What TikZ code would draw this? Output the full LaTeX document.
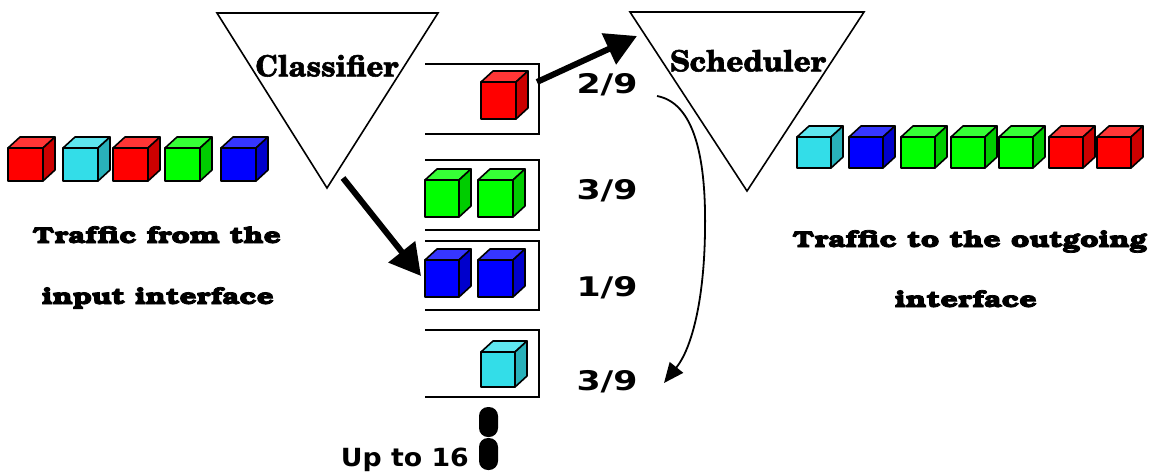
\documentclass[tikz,border=0pt]{standalone}
\usepackage[T1]{fontenc}
\usepackage{fontspec}
\usepackage{graphicx}
\usetikzlibrary{arrows.meta}

\newfontfamily\figsans{DejaVu Sans}
\newcommand\bookbf{\fontencoding{T1}\fontfamily{pbk}\fontseries{b}\selectfont}
\newcommand\schoolbf{\fontencoding{T1}\fontfamily{pnc}\fontseries{b}\selectfont}
% heavier glyphs: fill and stroke the outlines
\newcommand\heavy[2]{\special{pdf:literal 2 Tr #1 w}#2\special{pdf:literal 0 Tr}}

% packet colours: front, top and side faces
\definecolor{redFront}{HTML}{FF0000}
\definecolor{redTop}{HTML}{FF3636}
\definecolor{redSide}{HTML}{CC0000}
\definecolor{cyanFront}{HTML}{33DDE8}
\definecolor{cyanTop}{HTML}{5EE6EF}
\definecolor{cyanSide}{HTML}{29B1BA}
\definecolor{greenFront}{HTML}{00FF00}
\definecolor{greenTop}{HTML}{36FF36}
\definecolor{greenSide}{HTML}{00CC00}
\definecolor{blueFront}{HTML}{0000FF}
\definecolor{blueTop}{HTML}{3636FF}
\definecolor{blueSide}{HTML}{0000CC}

\tikzset{
  cubeline/.style={draw=black, line width=1.6pt, line join=round},
  thinline/.style={draw=black, line width=1.6pt},
  bigarrow/.style={line width=6pt, -{Triangle[length=31pt,width=33pt]}},
  thinarrow/.style={line width=1.8pt, -{Triangle[length=20pt,width=17pt]}},
  blocklabel/.style={font=\schoolbf\fontsize{27}{30}\selectfont, inner sep=0pt},
  sharelabel/.style={font=\figsans\bfseries\fontsize{27}{30}\selectfont, inner sep=0pt},
  trafficlabel/.style={font=\bookbf\fontsize{22}{26}\selectfont, inner sep=0pt, anchor=base},
}

% one packet: x, y of the front face's upper left corner, width, height, colour
\newcommand\packet[5]{%
  \filldraw[cubeline, fill=#5Top] (#1,#2) -- ++(12,-11) -- ++(#3,0) -- ++(-12,11) -- cycle;
  \filldraw[cubeline, fill=#5Side] (#1+#3,#2) -- ++(12,-11) -- ++(0,#4) -- ++(-12,11) -- cycle;
  \filldraw[cubeline, fill=#5Front] (#1,#2) rectangle ++(#3,#4);
}
% weight text, stretched to the printed width
\newcommand\share[1]{\resizebox{61pt}{\height}{#1}}

\begin{document}
\begin{tikzpicture}[x=1pt, y=-1pt]
\useasboundingbox (0,0) rectangle (1149,472);

% classifier and scheduler
\coordinate (clsA) at (217,13);
\coordinate (clsB) at (438,13);
\coordinate (clsC) at (327,188);
\draw[thinline, line join=miter] (clsA) -- (clsB) -- (clsC) -- cycle;
\node[blocklabel] (clsLbl) at (327,66) {\heavy{0.5}{\resizebox{143pt}{21pt}{Classifier}}};

\coordinate (schA) at (630,12);
\coordinate (schB) at (864,12);
\coordinate (schC) at (747,191);
\draw[thinline, line join=miter] (schA) -- (schB) -- (schC) -- cycle;
\node[blocklabel] (schLbl) at (748,61) {\heavy{0.5}{\resizebox{156pt}{21pt}{Scheduler}}};

% queues, open towards the classifier
\draw[thinline] (425,64) -- (539,64) -- (539,134) -- (425,134);
\draw[thinline] (425,160) -- (539,160) -- (539,230) -- (425,230);
\draw[thinline] (425,241) -- (539,241) -- (539,310) -- (425,310);
\draw[thinline] (425,330) -- (539,330) -- (539,397) -- (425,397);

% incoming traffic
\packet{8}{148}{35}{33}{red}
\packet{63}{148}{35}{33}{cyan}
\packet{113}{148}{35}{33}{red}
\packet{165}{148}{35}{33}{green}
\packet{221}{148}{35}{33}{blue}

% queued packets
\packet{481}{82}{35}{37}{red}
\packet{425}{180}{34}{37}{green}
\packet{478}{180}{35}{37}{green}
\packet{425}{260}{34}{37}{blue}
\packet{478}{260}{35}{37}{blue}
\packet{481}{352}{34}{35}{cyan}

% outgoing traffic
\packet{797}{137}{34}{31}{cyan}
\packet{849}{137}{34}{31}{blue}
\packet{901}{137}{34}{31}{green}
\packet{951}{137}{34}{31}{green}
\packet{999}{137}{34}{31}{green}
\packet{1049}{137}{34}{31}{red}
\packet{1097}{137}{34}{31}{red}

% weights
\node[sharelabel] (w1) at (607,85) {\share{2/9}};
\node[sharelabel] (w2) at (607,191) {\share{3/9}};
\node[sharelabel] (w3) at (607,288) {\share{1/9}};
\node[sharelabel] (w4) at (607,382) {\share{3/9}};

% arrows
\coordinate (clsOut) at (343,178);
\coordinate (q3In) at (421,276);
\draw[bigarrow] (clsOut) -- (q3In);
\coordinate (q1Out) at (537,82);
\coordinate (schIn) at (637,36);
\draw[bigarrow] (q1Out) -- (schIn);
\coordinate (rrFrom) at (657,96);
\coordinate (rrTo) at (664,383);
\draw[thinarrow] (rrFrom) .. controls (700,104) and (706,175) .. (705,232)
  .. controls (704,300) and (692,348) .. (rrTo);

% up to sixteen queues
\fill[rounded corners=9pt] (479,407) rectangle (498,437);
\fill[rounded corners=9pt] (479,438) rectangle (498,470);
\node[font=\figsans\bfseries\fontsize{25}{28}\selectfont, inner sep=0pt, anchor=base east] (upto) at (469,466) {\resizebox{128pt}{\height}{Up to 16}};

% traffic captions
\node[trafficlabel] (inTxtA) at (157,243) {\heavy{0.7}{\resizebox{248pt}{17pt}{Traffic from the}}};
\node[trafficlabel] (inTxtB) at (158,304) {\heavy{0.7}{\resizebox{232pt}{17pt}{input interface}}};
\node[trafficlabel] (outTxtA) at (970,247) {\heavy{0.7}{\resizebox{354pt}{17pt}{Traffic to the outgoing}}};
\node[trafficlabel] (outTxtB) at (966,307) {\heavy{0.7}{\resizebox{142pt}{17pt}{interface}}};
\end{tikzpicture}
\end{document}
